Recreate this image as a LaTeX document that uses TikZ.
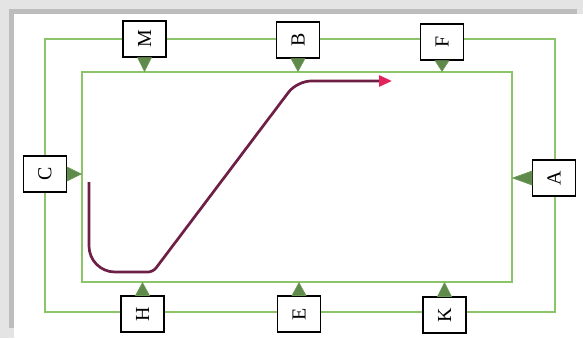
\documentclass[tikz,border=0pt]{standalone}
\usepackage{fontspec}
\setmainfont{Liberation Serif}
\usepackage{xcolor}
\definecolor{trackgreen}{HTML}{8CC46A}
\definecolor{markgreen}{HTML}{5F8A4C}
\definecolor{routeplum}{HTML}{6E1F45}
\definecolor{tippink}{HTML}{E2245C}
\definecolor{shadelight}{HTML}{E4E4E4}
\definecolor{shadedark}{HTML}{BDBDBD}
\usepackage{tikz}
\usetikzlibrary{arrows.meta,positioning}
\tikzset{
  track/.style  = {rectangle, draw=trackgreen, line width=1.3bp, inner sep=0pt},
  letter/.style = {rectangle, draw=black, fill=white, line width=1.1bp,
                   minimum width=36bp, minimum height=43bp, inner sep=0pt,
                   font=\fontsize{20}{20}\selectfont, rotate=90},
  marker/.style = {fill=markgreen, draw=markgreen!70!trackgreen, line width=0.6bp},
  route/.style  = {draw=routeplum, line width=2.7bp,
                   -{Triangle[length=13bp, width=11bp, color=tippink]}}
}

\begin{document}
\begin{tikzpicture}[x=1bp, y=-1bp]
  % frame and shadow
  \useasboundingbox (0,0) rectangle (583,338);
  \fill[shadelight] (0,0) rectangle (583,338);
  \fill[shadedark] (9,9) rectangle (577,328);
  \fill[white] (14,14) rectangle (583,338);

  % the two tracks
  \node[track, minimum width=510bp, minimum height=273bp] (outer) at (300,175.5) {};
  \node[track, minimum width=430bp, minimum height=210bp] (inner) at (297,177) {};

  % letters
  \node[letter] (M) at (144.5,39) {M};
  \node[letter] (B) at (298,40) {B};
  \node[letter] (F) at (442,42) {F};
  \node[letter] (C) at (45,174) {C};
  \node[letter] (A) at (554,178) {A};
  \node[letter] (H) at (142.5,314) {H};
  \node[letter] (E) at (299,314) {E};
  \node[letter] (K) at (444.5,315) {K};

  % markers pointing at the inner track
  \foreach \n in {M,B,F}
    \filldraw[marker] ([xshift=-7bp]\n.west) -- ([xshift=7bp]\n.west)
      -- (\n.west |- inner.north) -- cycle;
  \foreach \n in {H,E,K}
    \filldraw[marker] ([xshift=-7bp]\n.east) -- ([xshift=7bp]\n.east)
      -- (\n.east |- inner.south) -- cycle;
  \filldraw[marker] ([yshift=-7bp]C.south) -- ([yshift=7bp]C.south)
    -- (C.south -| inner.west) -- cycle;
  \filldraw[marker] ([yshift=-7bp]A.north) -- ([yshift=7bp]A.north)
    -- (A.north -| inner.east) -- cycle;

  % the ridden line
  \coordinate (start) at (89,182);
  \coordinate (low) at (153,272);
  \coordinate (bend) at (297,81);
  \coordinate (finish) at (392,81);
  \draw[route] (start) [rounded corners=26bp] -- (start |- low)
    [rounded corners=5bp] -- (low) [rounded corners=14bp] -- (bend)
    [sharp corners] -- (finish);
\end{tikzpicture}
\end{document}
